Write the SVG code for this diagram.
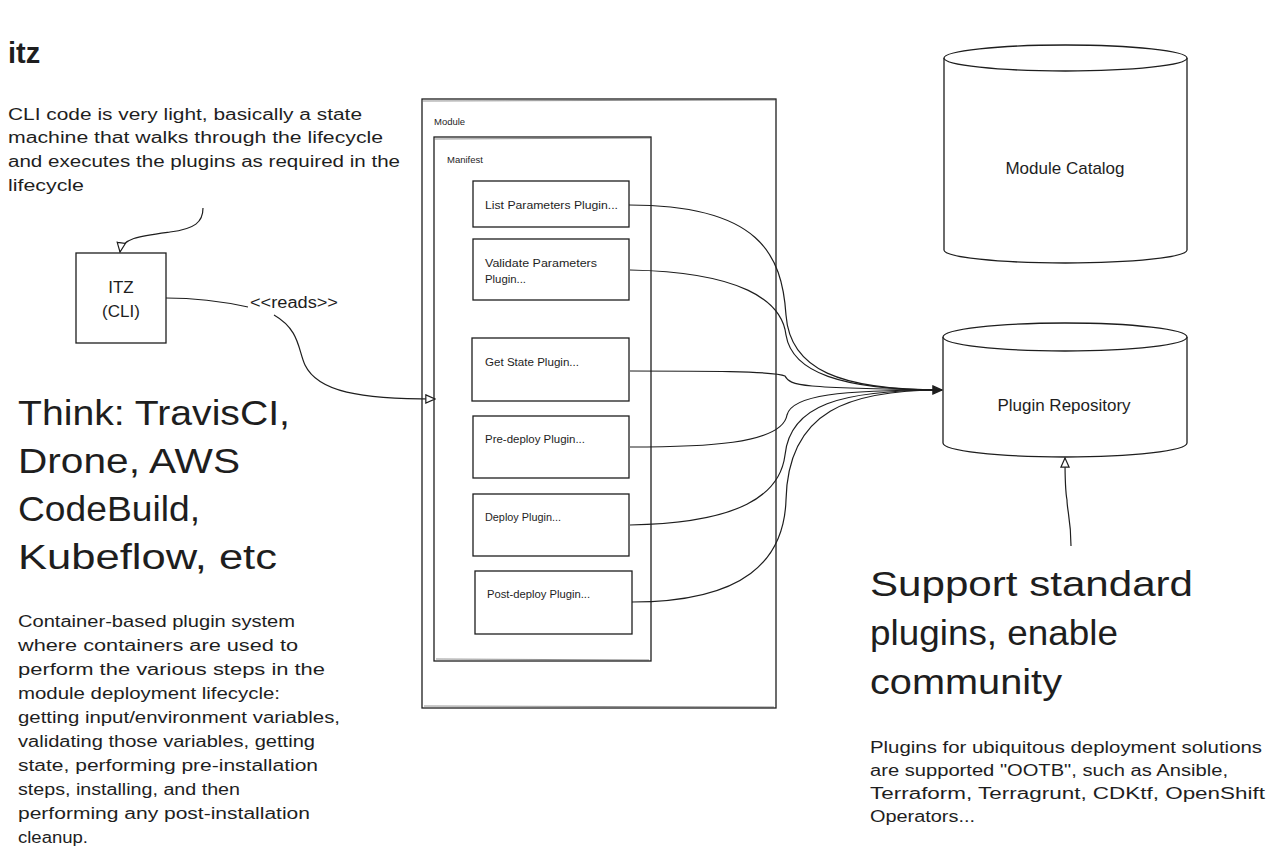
<svg xmlns="http://www.w3.org/2000/svg" width="1278" height="868" viewBox="0 0 1278 868">
<defs>
<style>
.bg{fill:#ffffff}
.box{fill:#ffffff;stroke:#1e1e1e;stroke-width:1.3}
.sk{fill:none;stroke:#1e1e1e;stroke-width:0.7;opacity:0.7}
.con{fill:none;stroke:#1e1e1e;stroke-width:1.2}
.t{font-family:"Liberation Sans",Arial,sans-serif;fill:#1e1e1e}
.s10{font-size:10px}
.s9{font-size:9.5px}
.s16{font-size:16px}
.s17{font-size:17px}
.big{font-size:35px}
.h{font-size:29px;font-weight:bold}
</style>
<marker id="ah" viewBox="0 0 12 12" refX="11" refY="6" markerWidth="11" markerHeight="11" markerUnits="userSpaceOnUse" orient="auto">
<path d="M1,1.5 L11,6 L1,10.5 Z" fill="#ffffff" stroke="#1e1e1e" stroke-width="1.3"/>
</marker>
<marker id="ahf" viewBox="0 0 12 12" refX="11" refY="6" markerWidth="11" markerHeight="11" markerUnits="userSpaceOnUse" orient="auto">
<path d="M1,1.5 L11,6 L1,10.5 Z" fill="#1e1e1e" stroke="#1e1e1e" stroke-width="1.2"/>
</marker>
</defs>
<rect class="bg" x="0" y="0" width="1278" height="868"/>

<!-- free texts -->
<g id="title">
<text class="t h" x="8" y="63">itz</text>
</g>
<g id="cli-note" class="t s16">
<text x="8" y="120" textLength="354" lengthAdjust="spacingAndGlyphs">CLI code is very light, basically a state</text>
<text x="8" y="143" textLength="375" lengthAdjust="spacingAndGlyphs">machine that walks through the lifecycle</text>
<text x="8" y="167" textLength="392" lengthAdjust="spacingAndGlyphs">and executes the plugins as required in the</text>
<text x="8" y="191" textLength="76" lengthAdjust="spacingAndGlyphs">lifecycle</text>
</g>
<g id="think" class="t big">
<text x="18" y="425" textLength="272" lengthAdjust="spacingAndGlyphs">Think: TravisCI,</text>
<text x="18" y="473" textLength="222" lengthAdjust="spacingAndGlyphs">Drone, AWS</text>
<text x="18" y="521" textLength="182" lengthAdjust="spacingAndGlyphs">CodeBuild,</text>
<text x="18" y="569" textLength="259" lengthAdjust="spacingAndGlyphs">Kubeflow, etc</text>
</g>
<g id="container-note" class="t s16">
<text x="18" y="627" textLength="277" lengthAdjust="spacingAndGlyphs">Container-based plugin system</text>
<text x="18" y="651" textLength="280" lengthAdjust="spacingAndGlyphs">where containers are used to</text>
<text x="18" y="675" textLength="307" lengthAdjust="spacingAndGlyphs">perform the various steps in the</text>
<text x="18" y="699" textLength="262" lengthAdjust="spacingAndGlyphs">module deployment lifecycle:</text>
<text x="18" y="723" textLength="322" lengthAdjust="spacingAndGlyphs">getting input/environment variables,</text>
<text x="18" y="747" textLength="297" lengthAdjust="spacingAndGlyphs">validating those variables, getting</text>
<text x="18" y="771" textLength="300" lengthAdjust="spacingAndGlyphs">state, performing pre-installation</text>
<text x="18" y="795" textLength="222" lengthAdjust="spacingAndGlyphs">steps, installing, and then</text>
<text x="18" y="819" textLength="292" lengthAdjust="spacingAndGlyphs">performing any post-installation</text>
<text x="18" y="843" textLength="70" lengthAdjust="spacingAndGlyphs">cleanup.</text>
</g>
<g id="support" class="t big">
<text x="870" y="596" textLength="323" lengthAdjust="spacingAndGlyphs">Support standard</text>
<text x="870" y="645" textLength="248" lengthAdjust="spacingAndGlyphs">plugins, enable</text>
<text x="870" y="694" textLength="192" lengthAdjust="spacingAndGlyphs">community</text>
</g>
<g id="plugins-note" class="t s16">
<text x="870" y="753" textLength="392" lengthAdjust="spacingAndGlyphs">Plugins for ubiquitous deployment solutions</text>
<text x="870" y="776" textLength="358" lengthAdjust="spacingAndGlyphs">are supported "OOTB", such as Ansible,</text>
<text x="870" y="799" textLength="395" lengthAdjust="spacingAndGlyphs">Terraform, Terragrunt, CDKtf, OpenShift</text>
<text x="870" y="822" textLength="105" lengthAdjust="spacingAndGlyphs">Operators...</text>
</g>

<!-- containers -->
<g id="module">
<rect class="box" x="422" y="99" width="354" height="609"/>
<path class="sk" d="M423,101 L775,100 M424,706 L774,707"/>
<text class="t s9" x="434" y="125">Module</text>
</g>
<g id="manifest">
<rect class="box" x="434" y="137" width="217" height="524"/>
<path class="sk" d="M435,139 L650,138 M436,659 L649,660"/>
<text class="t s9" x="447" y="163">Manifest</text>
</g>

<!-- plugin boxes -->
<g id="list-params">
<rect class="box" x="473" y="181" width="156" height="46"/>
<text class="t s10" x="485" y="209" textLength="133" lengthAdjust="spacingAndGlyphs">List Parameters Plugin...</text>
</g>
<g id="validate-params">
<rect class="box" x="473" y="239" width="156" height="61"/>
<text class="t s10" x="485" y="267" textLength="112" lengthAdjust="spacingAndGlyphs">Validate Parameters</text>
<text class="t s10" x="485" y="283" textLength="41" lengthAdjust="spacingAndGlyphs">Plugin...</text>
</g>
<g id="get-state">
<rect class="box" x="472" y="338" width="157" height="63"/>
<text class="t s10" x="485" y="366" textLength="94" lengthAdjust="spacingAndGlyphs">Get State Plugin...</text>
</g>
<g id="pre-deploy">
<rect class="box" x="473" y="416" width="156" height="62"/>
<text class="t s10" x="485" y="443" textLength="100" lengthAdjust="spacingAndGlyphs">Pre-deploy Plugin...</text>
</g>
<g id="deploy">
<rect class="box" x="473" y="494" width="156" height="62"/>
<text class="t s10" x="485" y="521" textLength="76" lengthAdjust="spacingAndGlyphs">Deploy Plugin...</text>
</g>
<g id="post-deploy">
<rect class="box" x="475" y="571" width="157" height="63"/>
<text class="t s10" x="487" y="598" textLength="103" lengthAdjust="spacingAndGlyphs">Post-deploy Plugin...</text>
</g>

<!-- ITZ -->
<g id="itz-cli">
<rect class="box" x="76" y="253" width="90" height="90"/>
<text class="t s17" x="121" y="293" text-anchor="middle">ITZ</text>
<text class="t s17" x="121" y="317" text-anchor="middle">(CLI)</text>
</g>

<!-- cylinders -->
<g id="module-catalog">
<path class="box" d="M944,58 L944,250 A121.5,13 0 0 0 1187,250 L1187,58 A121.5,13 0 0 0 944,58 Z"/>
<path class="box" d="M944,58 A121.5,13 0 0 0 1187,58"/>
<text class="t s17" x="1065" y="174" text-anchor="middle">Module Catalog</text>
</g>
<g id="plugin-repository">
<path class="box" d="M943,337 L943,443 A122,14 0 0 0 1187,443 L1187,337 A122,14 0 0 0 943,337 Z"/>
<path class="box" d="M943,337 A122,14 0 0 0 1187,337"/>
<text class="t s17" x="1064" y="411" text-anchor="middle">Plugin Repository</text>
</g>

<!-- connectors -->
<g id="connectors">
<path class="con" d="M203,208 C203,222 195,229 170,232 C140,236 122,238 120,252" marker-end="url(#ah)"/>
<path class="con" d="M166,298 C200,298 225,302 248,307"/>
<text class="t s16" x="250" y="308" textLength="88" lengthAdjust="spacingAndGlyphs">&lt;&lt;reads&gt;&gt;</text>
<path class="con" d="M274,315 C300,330 298,350 305,365 C318,392 360,399 435,399" marker-end="url(#ah)"/>

<path class="con" d="M629,205 C760,205 782,255 786,315 C790,370 840,390 942,390" marker-end="url(#ahf)"/>
<path class="con" d="M630,270 C740,272 782,300 786,335 C792,372 840,390 942,390"/>
<path class="con" d="M630,371 C700,371 775,371 785,376 C790,386 800,388 942,390"/>
<path class="con" d="M630,447 C700,447 782,445 787,415 C792,395 840,390 942,390"/>
<path class="con" d="M630,525 C740,523 780,495 785,455 C790,405 840,390 942,390"/>
<path class="con" d="M632,602 C745,602 784,560 786,500 C788,410 850,390 942,390"/>

<path class="con" d="M1071,546 C1071,520 1067,510 1067,500 C1065,490 1065,475 1065,458" marker-end="url(#ah)"/>
</g>
</svg>
